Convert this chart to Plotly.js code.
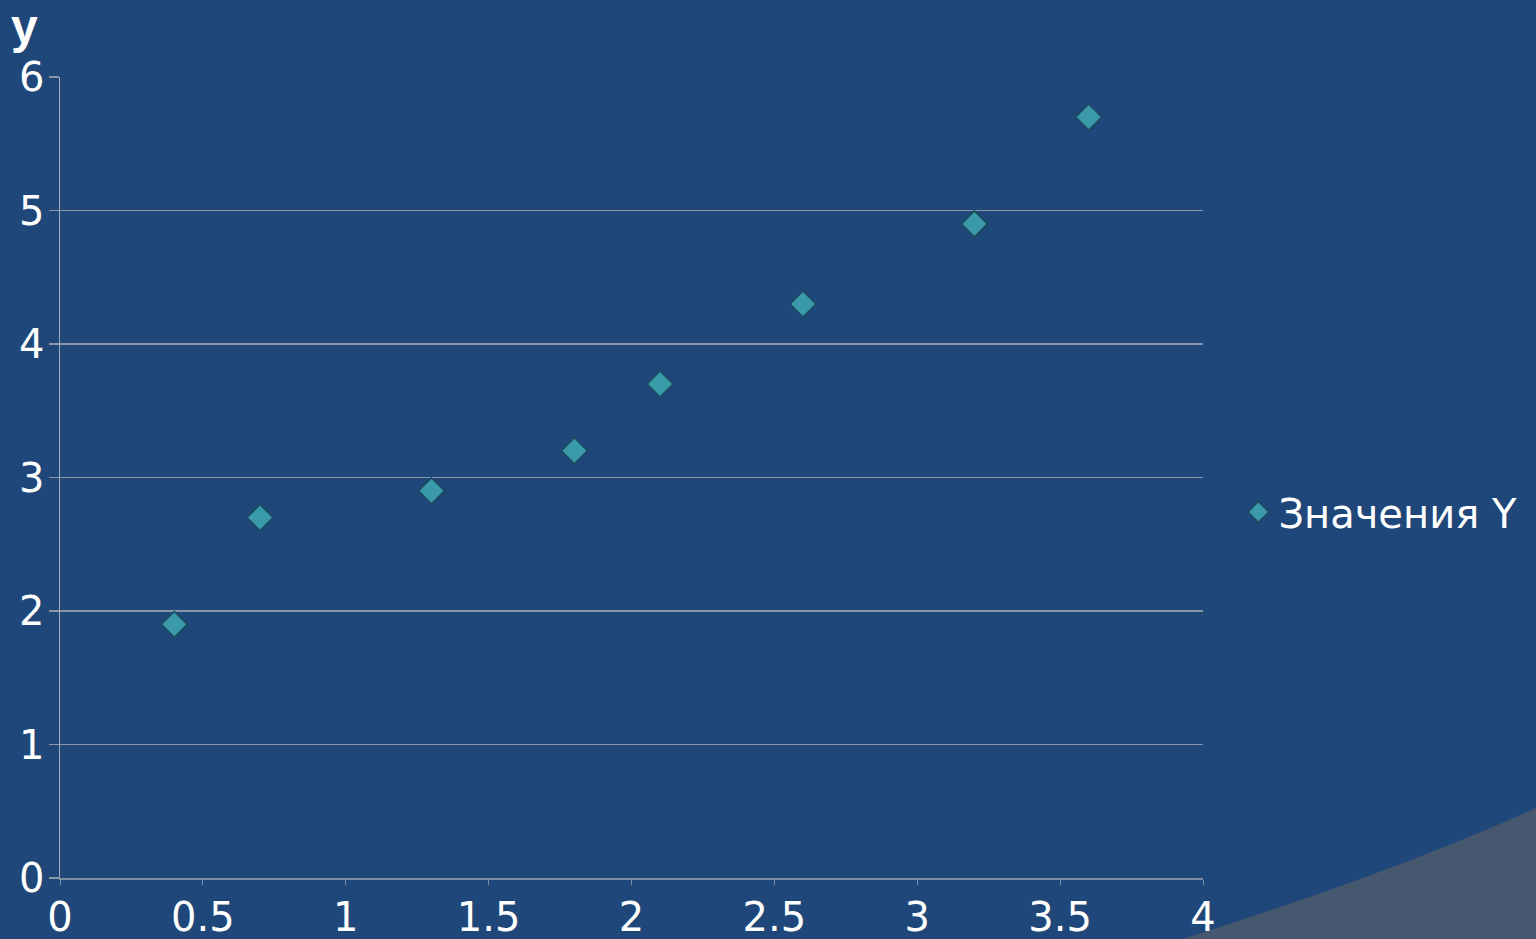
<!DOCTYPE html>
<html>
<head>
<meta charset="utf-8">
<script src="https://cdn.plot.ly/plotly-3.0.1.min.js"></script>
<style>
html,body{margin:0;padding:0;width:1536px;height:939px;overflow:hidden;background:#1f4779;}
#bg{position:absolute;left:0;top:0;width:1536px;height:939px;}
#chart{position:absolute;left:0;top:0;width:1536px;height:939px;}
</style>
</head>
<body>
<svg id="bg" width="1536" height="939" xmlns="http://www.w3.org/2000/svg">
  <path d="M1183,939 Q1400,870 1536,808 L1536,939 Z" fill="#465770"/>
</svg>
<div id="chart"></div>
<script>
const seriesName = 'Значения Y';
const xValues = [0.4, 0.7, 1.3, 1.8, 2.1, 2.6, 3.2, 3.6];
const yValues = [1.9, 2.7, 2.9, 3.2, 3.7, 4.3, 4.9, 5.7];
const yAxisTitle = 'y';

const trace = {
  type: 'scatter',
  mode: 'markers',
  name: seriesName,
  x: xValues,
  y: yValues,
  marker: {symbol: 'diamond', size: 20, color: '#3b9aa9', line: {color: '#1b4a5e', width: 1.5}},
  showlegend: true
};

const layout = {
  width: 1536, height: 939,
  paper_bgcolor: 'rgba(0,0,0,0)',
  plot_bgcolor: 'rgba(0,0,0,0)',
  margin: {l: 60, r: 333, t: 77, b: 61},
  font: {family: 'DejaVu Sans, sans-serif', color: '#ffffff', size: 40},
  showlegend: true,
  legend: {x: 1.031, y: 0.457, xanchor: 'left', yanchor: 'middle', bgcolor: 'rgba(0,0,0,0)',
           font: {size: 40, color: '#ffffff'}, itemwidth: 30},
  xaxis: {
    range: [0, 4], dtick: 0.5, tick0: 0, showgrid: false, zeroline: false,
    showline: true, linecolor: '#7f8ea3', linewidth: 2,
    ticks: 'outside', ticklen: 5, tickcolor: '#7f8ea3', tickwidth: 1,
    ticklabelstandoff: -2,
    tickfont: {size: 40, color: '#ffffff'}, fixedrange: true
  },
  yaxis: {
    range: [0, 6], dtick: 1, tick0: 0, showgrid: true, gridcolor: '#8a97a8', gridwidth: 1.5,
    zeroline: false, showline: true, linecolor: '#a3adba', linewidth: 1.5,
    ticks: 'outside', ticklen: 10, tickcolor: '#8a97a8', tickwidth: 1.5,
    ticklabelstandoff: -4,
    tickfont: {size: 40, color: '#ffffff'}, fixedrange: true
  },
  annotations: [{
    text: '<b>' + yAxisTitle + '</b>', xref: 'paper', yref: 'paper',
    x: -0.045, y: 1.028, xanchor: 'left', yanchor: 'bottom', showarrow: false,
    font: {size: 48, color: '#ffffff', family: 'Liberation Sans, Arial, sans-serif'}
  }]
};

Plotly.newPlot('chart', [trace], layout, {displayModeBar: false, staticPlot: true});
</script>
</body>
</html>
